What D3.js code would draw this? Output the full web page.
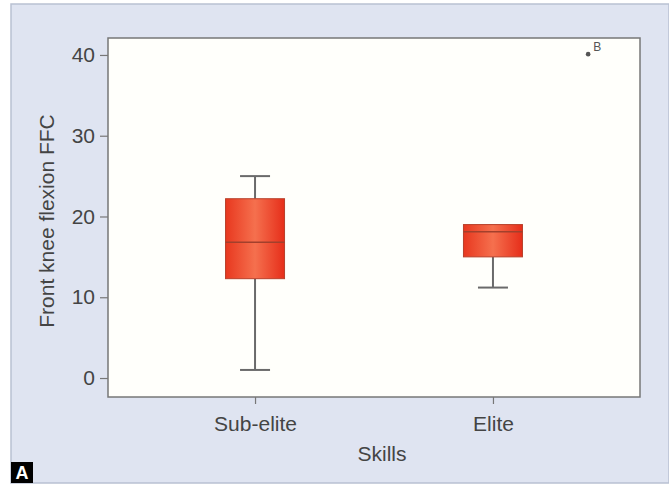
<!DOCTYPE html>
<html>
<head>
<meta charset="utf-8">
<script src="https://cdn.jsdelivr.net/npm/d3@7"></script>
<style>
  body { margin: 0; background: #fff; }
  text { font-family: "Liberation Sans", Arial, sans-serif; }
</style>
</head>
<body>
<div id="chart-area"></div>
<script>
// data
var categories = ["Sub-elite", "Elite"];
var whiskerLow = [1, 11.2];
var q1 = [12.3, 15];
var medians = [16.8, 18.1];
var q3 = [22.2, 19];
var whiskerHigh = [25, 19];
var outlierValues = [40.1];
var outlierPos = [2.4];
var outlierLabels = ["B"];
var yTicks = [0, 10, 20, 30, 40];

var W = 669, H = 486;
var plot = { left: 108, right: 640, top: 38, bottom: 397 };
var fontSize = "21px", textColor = "#444";

var svg = d3.select("#chart-area").append("svg")
  .attr("width", W).attr("height", H);

// gradient for boxes
var defs = svg.append("defs");
var grad = defs.append("linearGradient").attr("id", "boxGrad")
  .attr("x1", "0%").attr("x2", "100%").attr("y1", "0%").attr("y2", "0%");
grad.append("stop").attr("offset", "0%").attr("stop-color", "#e8381f");
grad.append("stop").attr("offset", "50%").attr("stop-color", "#f5704e");
grad.append("stop").attr("offset", "100%").attr("stop-color", "#e62e1a");

// outer panel
svg.append("rect")
  .attr("x", 11).attr("y", 4).attr("width", W - 11).attr("height", 479)
  .attr("fill", "#dfe4f1").attr("stroke", "#b9c1d2").attr("stroke-width", 1.5);

var x = d3.scaleLinear().domain([0.382, 2.618]).range([plot.left, plot.right]);
var y = d3.scaleLinear().domain([-2.35, 42.1]).range([plot.bottom, plot.top]);

// plot area
svg.append("rect")
  .attr("x", plot.left).attr("y", plot.top)
  .attr("width", plot.right - plot.left).attr("height", plot.bottom - plot.top)
  .attr("fill", "#fffffb").attr("stroke", "#777").attr("stroke-width", 1.5);

// Y axis
var yAxis = d3.axisLeft(y).tickValues(yTicks).tickSize(8).tickPadding(5);
var yg = svg.append("g").attr("transform", "translate(" + plot.left + ",0)").call(yAxis);
yg.select(".domain").remove();
yg.selectAll("line").attr("stroke", "#777").attr("stroke-width", 1.2);
yg.selectAll("text").attr("font-size", fontSize).attr("fill", textColor)
  .style("font-family", "Liberation Sans, Arial, sans-serif");

// X axis
var xAxis = d3.axisBottom(x).tickValues([1, 2])
  .tickFormat(function(d) { return categories[d - 1]; })
  .tickSize(7).tickPadding(12);
var xg = svg.append("g").attr("transform", "translate(0," + plot.bottom + ")").call(xAxis);
xg.select(".domain").remove();
xg.selectAll("line").attr("stroke", "#777").attr("stroke-width", 1.2);
xg.selectAll("text").attr("font-size", fontSize).attr("fill", textColor)
  .style("font-family", "Liberation Sans, Arial, sans-serif");

// labels
svg.append("text")
  .attr("x", (plot.left + plot.right) / 2 + 8).attr("y", 461)
  .attr("text-anchor", "middle").attr("font-size", fontSize).attr("fill", textColor)
  .text("Skills");

svg.append("text")
  .attr("transform", "translate(54," + 221 + ") rotate(-90)")
  .attr("text-anchor", "middle").attr("font-size", fontSize).attr("fill", textColor)
  .text("Front knee flexion FFC");

// boxes
var boxW = 59, capW = 30;
var boxes = categories.map(function(c, i) {
  return { pos: i + 1, lo: whiskerLow[i], q1: q1[i], med: medians[i], q3: q3[i], hi: whiskerHigh[i] };
});

var bg = svg.selectAll(".box").data(boxes).enter().append("g").attr("class", "box");

// whiskers
bg.append("line")
  .attr("x1", function(d) { return x(d.pos); }).attr("x2", function(d) { return x(d.pos); })
  .attr("y1", function(d) { return y(d.lo); }).attr("y2", function(d) { return y(d.q1); })
  .attr("stroke", "#6a6a6a").attr("stroke-width", 2);
bg.append("line")
  .attr("x1", function(d) { return x(d.pos); }).attr("x2", function(d) { return x(d.pos); })
  .attr("y1", function(d) { return y(d.q3); }).attr("y2", function(d) { return y(d.hi); })
  .attr("stroke", "#6a6a6a").attr("stroke-width", 2);
bg.append("line")
  .attr("x1", function(d) { return x(d.pos) - capW / 2; }).attr("x2", function(d) { return x(d.pos) + capW / 2; })
  .attr("y1", function(d) { return y(d.lo); }).attr("y2", function(d) { return y(d.lo); })
  .attr("stroke", "#6a6a6a").attr("stroke-width", 2);
bg.filter(function(d) { return d.hi > d.q3; }).append("line")
  .attr("x1", function(d) { return x(d.pos) - capW / 2; }).attr("x2", function(d) { return x(d.pos) + capW / 2; })
  .attr("y1", function(d) { return y(d.hi); }).attr("y2", function(d) { return y(d.hi); })
  .attr("stroke", "#6a6a6a").attr("stroke-width", 2);

bg.append("rect")
  .attr("x", function(d) { return x(d.pos) - boxW / 2; })
  .attr("y", function(d) { return y(d.q3); })
  .attr("width", boxW)
  .attr("height", function(d) { return y(d.q1) - y(d.q3); })
  .attr("fill", "url(#boxGrad)").attr("stroke", "#b8402a").attr("stroke-width", 1);

bg.append("line")
  .attr("x1", function(d) { return x(d.pos) - boxW / 2; }).attr("x2", function(d) { return x(d.pos) + boxW / 2; })
  .attr("y1", function(d) { return y(d.med); }).attr("y2", function(d) { return y(d.med); })
  .attr("stroke", "#a2402c").attr("stroke-width", 1.5);

// outlier
svg.selectAll(".outlier").data(outlierValues).enter().append("circle")
  .attr("cx", function(d, i) { return x(outlierPos[i]); })
  .attr("cy", function(d) { return y(d); })
  .attr("r", 2.3).attr("fill", "#555");
svg.selectAll(".olabel").data(outlierValues).enter().append("text")
  .attr("x", function(d, i) { return x(outlierPos[i]) + 5; })
  .attr("y", function(d) { return y(d) - 3; })
  .attr("font-size", "12px").attr("fill", "#555")
  .text(function(d, i) { return outlierLabels[i]; });

// panel letter
svg.append("rect").attr("x", 11).attr("y", 462).attr("width", 22).attr("height", 21).attr("fill", "#000");
svg.append("text").attr("x", 22).attr("y", 479).attr("text-anchor", "middle")
  .attr("font-size", "18px").attr("font-weight", "bold").attr("fill", "#fff").text("A");
</script>
</body>
</html>
